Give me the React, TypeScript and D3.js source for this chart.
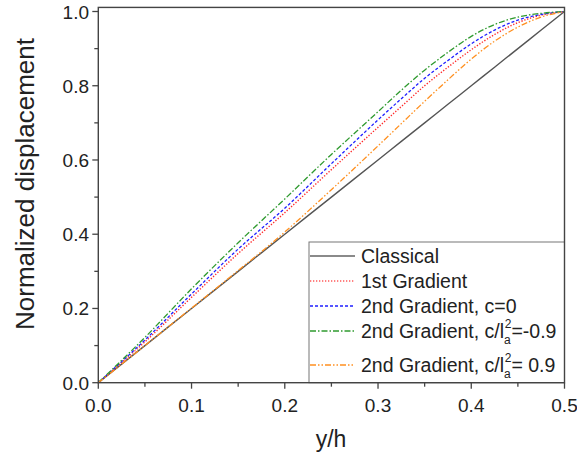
import React from "react";
import * as d3 from "d3";

const xs = [0, 0.05, 0.1, 0.15, 0.2, 0.25, 0.3, 0.325, 0.35, 0.375, 0.4, 0.425, 0.45, 0.475, 0.5];
const classical = [0, 0.1, 0.2, 0.3, 0.4, 0.5, 0.6, 0.65, 0.7, 0.75, 0.8, 0.85, 0.9, 0.95, 1.0];
const firstGradient = [0, 0.11, 0.23, 0.348, 0.458, 0.574, 0.688, 0.744, 0.8, 0.85, 0.897, 0.938, 0.97, 0.99, 1.0];
const secondC0 = [0, 0.115, 0.239, 0.36, 0.47, 0.59, 0.708, 0.765, 0.82, 0.868, 0.913, 0.95, 0.977, 0.992, 1.0];
const secondNeg = [0, 0.122, 0.253, 0.377, 0.495, 0.615, 0.73, 0.788, 0.842, 0.89, 0.933, 0.965, 0.985, 0.995, 1.0];
const secondPos = [0, 0.1, 0.201, 0.302, 0.406, 0.52, 0.638, 0.698, 0.758, 0.816, 0.872, 0.92, 0.958, 0.985, 1.0];

const xTicks = [0, 0.1, 0.2, 0.3, 0.4, 0.5];
const xMinor = [0.05, 0.15, 0.25, 0.35, 0.45];
const yTicks = [0, 0.2, 0.4, 0.6, 0.8, 1.0];
const yMinor = [0.1, 0.3, 0.5, 0.7, 0.9];

const series = [
  { name: "Classical", values: classical, color: "#555555", dash: "", width: 1.4, legendColor: "#8a8a8a", legendWidth: 2 },
  { name: "1st Gradient", values: firstGradient, color: "#ff2a2a", dash: "1.3,1.7", width: 1.4, legendColor: "#ff5a5a", legendWidth: 1.4 },
  { name: "2nd Gradient, c=0", values: secondC0, color: "#1f1fff", dash: "3,2", width: 1.3, legendColor: "#1f1fff", legendWidth: 1.3 },
  { name: "neg", values: secondNeg, color: "#2f9a2f", dash: "6,2,1.5,2", width: 1.3, legendColor: "#2f9a2f", legendWidth: 1.3 },
  { name: "pos", values: secondPos, color: "#ff9020", dash: "6,2,1.5,2,1.5,2", width: 1.3, legendColor: "#ff9020", legendWidth: 1.3 },
];

const FONT = "'Liberation Sans', Arial, sans-serif";

export default function App() {
  const x = d3.scaleLinear().domain([0, 0.5]).range([98.3, 564.5]);
  const y = d3.scaleLinear().domain([0, 1]).range([382.7, 11.5]);
  const yTop = y(1.011);
  const line = d3
    .line<number>()
    .x((_, i) => x(xs[i]))
    .y((v) => y(v))
    .curve(d3.curveMonotoneX);

  const legendX = 309;
  const legendTop = 242;
  const lineX1 = 310;
  const lineX2 = 355;
  const textX = 361;
  const rows = [256, 281, 306, 331, 365];
  const fmt = d3.format(".1f");

  return (
    <svg width={577} height={461} style={{ position: "absolute", left: 0, top: 0, background: "#fff" }} fontFamily={FONT}>
      <rect x={0} y={0} width={577} height={461} fill="#fff" />
      <defs>
        <clipPath id="clip">
          <rect x={x(0)} y={yTop} width={x(0.5) - x(0)} height={y(0) - yTop} />
        </clipPath>
      </defs>
      <g clipPath="url(#clip)">
        {series.map((s) => (
          <path key={s.name} d={line(s.values) || ""} fill="none" stroke={s.color} strokeWidth={s.width} strokeDasharray={s.dash || undefined} />
        ))}
      </g>
      {/* legend */}
      <rect x={legendX} y={legendTop} width={x(0.5) - legendX} height={y(0) - legendTop} fill="#fff" stroke="#777" strokeWidth={1} />
      {series.map((s, i) => (
        <line key={"l" + i} x1={lineX1} x2={lineX2} y1={rows[i]} y2={rows[i]} stroke={s.legendColor} strokeWidth={s.legendWidth} strokeDasharray={s.dash || undefined} />
      ))}
      <g fontSize={19.5} fill="#222">
        <text x={textX} y={rows[0] + 7}>Classical</text>
        <text x={textX} y={rows[1] + 7}>1st Gradient</text>
        <text x={textX} y={rows[2] + 7}>2nd Gradient, c=0</text>
        <text x={textX} y={rows[3] + 7}>
          2nd Gradient, c/l
          <tspan fontSize={12} dy={6}>a</tspan>
          <tspan fontSize={12} dx={-6} dy={-16}>2</tspan>
          <tspan dy={10}>=-0.9</tspan>
        </text>
        <text x={textX} y={rows[4] + 7}>
          2nd Gradient, c/l
          <tspan fontSize={12} dy={6}>a</tspan>
          <tspan fontSize={12} dx={-6} dy={-16}>2</tspan>
          <tspan dy={10}>= 0.9</tspan>
        </text>
      </g>
      {/* frame */}
      <rect x={x(0)} y={yTop} width={x(0.5) - x(0)} height={y(0) - yTop} fill="none" stroke="#444" strokeWidth={1.4} />
      {xTicks.map((t) => (
        <g key={"xt" + t}>
          <line x1={x(t)} x2={x(t)} y1={y(0)} y2={y(0) + 6} stroke="#444" strokeWidth={1.3} />
          <text x={x(t)} y={412} textAnchor="middle" fontSize={19} fill="#222">{fmt(t)}</text>
        </g>
      ))}
      {xMinor.map((t) => (
        <line key={"xm" + t} x1={x(t)} x2={x(t)} y1={y(0)} y2={y(0) + 4} stroke="#444" strokeWidth={1.3} />
      ))}
      {yTicks.map((t) => (
        <g key={"yt" + t}>
          <line x1={x(0) - 6} x2={x(0)} y1={y(t)} y2={y(t)} stroke="#444" strokeWidth={1.3} />
          <text x={89} y={y(t) + 7} textAnchor="end" fontSize={19} fill="#222">{fmt(t)}</text>
        </g>
      ))}
      {yMinor.map((t) => (
        <line key={"ym" + t} x1={x(0) - 4} x2={x(0)} y1={y(t)} y2={y(t)} stroke="#444" strokeWidth={1.3} />
      ))}
      <text x={331} y={447} textAnchor="middle" fontSize={23} fill="#222">y/h</text>
      <text transform={`translate(34,${184}) rotate(-90)`} textAnchor="middle" fontSize={26} fill="#222">Normalized displacement</text>
    </svg>
  );
}
